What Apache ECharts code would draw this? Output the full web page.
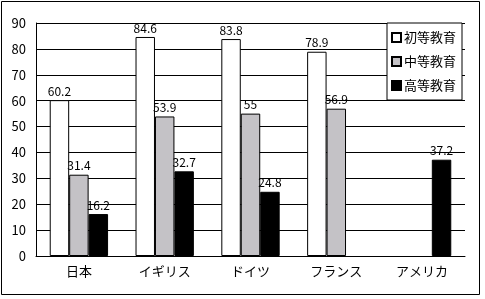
<!DOCTYPE html>
<html><head><meta charset="utf-8">
<script src="https://cdn.jsdelivr.net/npm/echarts@6/dist/echarts.min.js"></script>
<style>html,body{margin:0;padding:0;background:#fff}#c{width:485px;height:299px}</style>
</head><body><div id="c"></div>
<script>
var categories = ['日本', 'イギリス', 'ドイツ', 'フランス', 'アメリカ'];
var seriesNames = ['初等教育', '中等教育', '高等教育'];
var primary = [60.2, 84.6, 83.8, 78.9, '-'];
var secondary = [31.4, 53.9, 55, 56.9, '-'];
var tertiary = [16.2, 32.7, 24.8, '-', 37.2];
var yTicks = [0, 10, 20, 30, 40, 50, 60, 70, 80, 90];

var FONT = '"Noto Sans CJK JP", "Liberation Sans", sans-serif';
var colors = ['#ffffff', '#c4c2c6', '#000000'];
var dataSets = [primary, secondary, tertiary];

var chart = echarts.init(document.getElementById('c'), null, {renderer: 'canvas'});
chart.setOption({
  animation: false,
  backgroundColor: '#fff',
  textStyle: {fontFamily: FONT},
  graphic: [{
    type: 'rect', shape: {x: 1.5, y: 1.5, width: 478, height: 293},
    style: {fill: 'none', stroke: '#000', lineWidth: 1}, z: 100
  }],
  grid: {left: 36, right: 20, top: 23, bottom: 43},
  legend: {
    orient: 'vertical', left: 387, top: 23,
    backgroundColor: '#fff', borderColor: '#000', borderWidth: 1,
    padding: [8, 6, 8, 4], itemGap: 11, itemWidth: 9, itemHeight: 9,
    icon: 'rect',
    textStyle: {fontSize: 13, fontFamily: FONT, color: '#000', padding: [0, 0, 0, -2]},
    data: seriesNames
  },
  xAxis: {
    type: 'category', data: categories,
    axisLine: {lineStyle: {color: '#000', width: 1}},
    axisTick: {inside: true, length: 4, lineStyle: {color: '#000'}},
    axisLabel: {color: '#000', fontSize: 13, fontFamily: FONT, margin: 9}
  },
  yAxis: {
    type: 'value', min: yTicks[0], max: yTicks[yTicks.length - 1], interval: 10,
    axisLine: {show: true, lineStyle: {color: '#000', width: 1}},
    axisTick: {show: true, inside: true, length: 4, lineStyle: {color: '#000'}},
    axisLabel: {color: '#000', fontSize: 13, fontFamily: FONT, margin: 10},
    splitLine: {show: true, lineStyle: {color: '#000', width: 1}}
  },
  series: seriesNames.map(function (n, i) {
    return {
      name: n, type: 'bar', data: dataSets[i],
      barGap: '0%', barCategoryGap: '32%',
      itemStyle: {color: colors[i], borderColor: '#000', borderWidth: 1},
      label: {show: true, position: 'top', color: '#000', fontSize: 12, fontFamily: FONT, distance: 3}
    };
  })
});
</script></body></html>
